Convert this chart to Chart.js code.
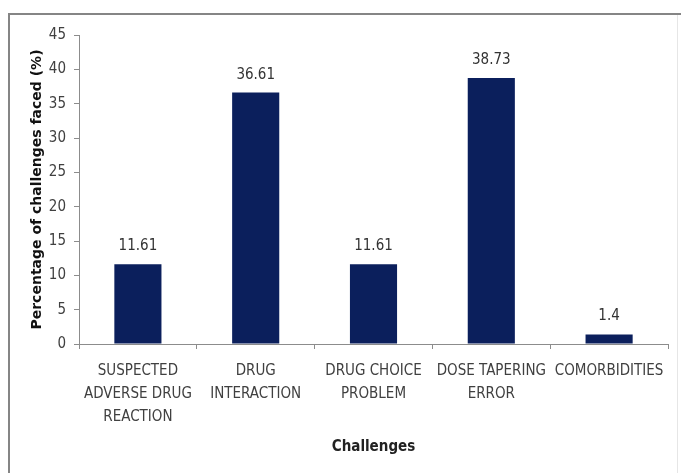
<!DOCTYPE html>
<html>
<head>
<meta charset="utf-8">
<script src="https://cdn.jsdelivr.net/npm/chart.js@4"></script>
<style>
  html, body { margin: 0; padding: 0; background: #fff; }
  #wrap { width: 681px; height: 473px; position: relative; }
</style>
</head>
<body>
<div id="wrap"><canvas id="chart" width="681" height="473"></canvas></div>
<script>
(function () {
    'use strict';

    // ── Data ──────────────────────────────────────────────────────────────
    const categories = [
        ['SUSPECTED', 'ADVERSE DRUG', 'REACTION'],
        ['DRUG', 'INTERACTION'],
        ['DRUG CHOICE', 'PROBLEM'],
        ['DOSE TAPERING', 'ERROR'],
        ['COMORBIDITIES']
    ];
    const percentages = [11.61, 36.61, 11.61, 38.73, 1.4];
    const yTicks = [0, 5, 10, 15, 20, 25, 30, 35, 40, 45];

    // ── Theme ─────────────────────────────────────────────────────────────
    const BAR    = '#0b1f5c';
    const TEXT   = '#404040';
    const AXIS   = '#8c8c8c';
    const NARROW = "'Liberation Sans Narrow', 'DejaVu Sans Condensed', 'Liberation Sans', sans-serif";

    // value labels above bars
    const valueLabels = {
        id: 'valueLabels',
        afterDatasetsDraw(chart) {
            const ctx = chart.ctx;
            const meta = chart.getDatasetMeta(0);
            ctx.save();
            ctx.font = '15px ' + NARROW;
            ctx.fillStyle = '#333';
            ctx.textAlign = 'center';
            ctx.textBaseline = 'middle';
            meta.data.forEach((bar, i) => {
                ctx.fillText(String(percentages[i]), bar.x, bar.y - 18);
            });
            ctx.restore();
        }
    };

    // outer frame of the figure (top + left heavy, right faint)
    const frame = {
        id: 'frame',
        beforeDraw(chart) {
            const ctx = chart.ctx;
            ctx.save();
            ctx.lineWidth = 2;
            ctx.strokeStyle = '#858585';
            ctx.beginPath();
            ctx.moveTo(9, 473);
            ctx.lineTo(9, 14);
            ctx.lineTo(681, 14);
            ctx.stroke();
            ctx.lineWidth = 1;
            ctx.strokeStyle = '#e6e6e6';
            ctx.beginPath();
            ctx.moveTo(677.5, 15);
            ctx.lineTo(677.5, 473);
            ctx.stroke();
            ctx.restore();
        }
    };

    new Chart(document.getElementById('chart'), {
        type: 'bar',
        data: {
            labels: categories,
            datasets: [{
                data: percentages,
                backgroundColor: BAR,
                borderWidth: 0,
                categoryPercentage: 1,
                barPercentage: 0.4
            }]
        },
        options: {
            responsive: false,
            animation: false,
            layout: { padding: { left: 25, top: 35, right: 13, bottom: 13 } },
            plugins: {
                legend: { display: false },
                tooltip: { enabled: false }
            },
            scales: {
                x: {
                    offset: true,
                    afterFit: s => { s.height = 116; },
                    grid: {
                        offset: true,
                        drawOnChartArea: false,
                        tickLength: 5,
                        color: AXIS
                    },
                    border: { color: AXIS },
                    ticks: {
                        color: TEXT,
                        padding: 11,
                        maxRotation: 0,
                        autoSkip: false,
                        font: { family: NARROW, size: 15, lineHeight: 1.53 }
                    },
                    title: {
                        display: true,
                        text: 'Challenges',
                        color: '#222',
                        padding: { top: 4, bottom: 4 },
                        font: { family: NARROW, size: 15, weight: 'bold', lineHeight: 1.2 }
                    }
                },
                y: {
                    min: 0,
                    max: 45,
                    afterFit: s => { s.width = 54; },
                    afterBuildTicks: s => { s.ticks = yTicks.map(v => ({ value: v })); },
                    grid: {
                        drawOnChartArea: false,
                        tickLength: 5,
                        color: AXIS
                    },
                    border: { color: AXIS },
                    ticks: {
                        color: TEXT,
                        padding: 8,
                        font: { family: NARROW, size: 15 }
                    },
                    title: {
                        display: true,
                        text: 'Percentage of challenges faced (%)',
                        color: '#111',
                        padding: { top: 4, bottom: 2 },
                        font: { family: "'DejaVu Sans', sans-serif", size: 14, weight: 'bold', lineHeight: 1.2 }
                    }
                }
            }
        },
        plugins: [frame, valueLabels]
    });
})();
</script>
</body>
</html>
